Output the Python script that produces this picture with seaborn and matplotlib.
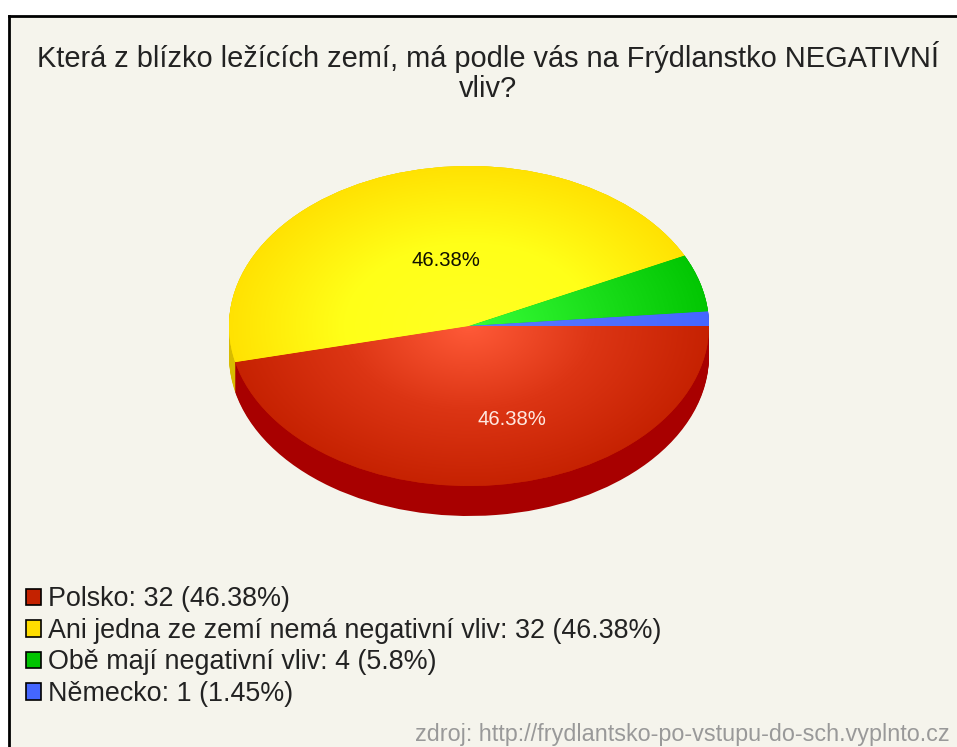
import numpy as np
import seaborn as sns
import matplotlib.pyplot as plt
from matplotlib.patches import Patch

# survey answers
names = ['Polsko', 'Ani jedna ze zemí nemá negativní vliv', 'Obě mají negativní vliv', 'Německo']
counts = [32, 32, 4, 1]
percents = ['46.38%', '46.38%', '5.8%', '1.45%']
title = 'Která z blízko ležících zemí, má podle vás na Frýdlanstko NEGATIVNÍ\nvliv?'
source = 'zdroj: http://frydlantsko-po-vstupu-do-sch.vyplnto.cz'

# colours: legend / pie centre / half radius / pie rim / side of the pie
legend_colors = ['#c42200', '#ffdd00', '#00c400', '#4466ff']
center_colors = ['#ff5a38', '#ffff22', '#38ff38', '#5a7cff']
middle_colors = ['#dc3514', '#ffff18', '#1ce01c', '#5070ff']
rim_colors = ['#c42000', '#ffdf00', '#00c400', '#4466ff']
side_colors = ['#a80000', '#d8bc00', '#00a000', '#3050d0']

W, H = 957, 747
BG = '#f5f4ec'

sns.set_theme(style='white')
plt.rcParams['font.family'] = ['Liberation Sans', 'DejaVu Sans']

fig = plt.figure(figsize=(W / 100, H / 100), dpi=100, facecolor='white')

# panel with the black border, it runs off the right and bottom of the image
panel = fig.add_axes([9 / W, -0.01, 1.0, (H - 16) / H + 0.01], facecolor=BG)
panel.set_xticks([])
panel.set_yticks([])
sns.despine(ax=panel, top=False, left=False, right=True, bottom=True)
panel.spines['top'].set_color('black')
panel.spines['left'].set_color('black')
panel.spines['top'].set_linewidth(2)
panel.spines['left'].set_linewidth(2)

# pie axes: x radius 240px, y radius 160px, 30px of depth below
depth = 30 / 160
ax = fig.add_axes([229 / W, (H - 326 - 160 - 31) / H, 480 / W, (320 + 31) / H])
ax.patch.set_alpha(0)

# side of the pie, same pie stacked downwards
for d in np.linspace(depth, 0, 31):
    ax.pie(counts, colors=side_colors, startangle=0, counterclock=False, center=(0, -d),
           radius=1, wedgeprops={'linewidth': 0})

# top of the pie
wedges, _ = ax.pie(counts, colors=rim_colors, startangle=0, counterclock=False,
                   radius=1, wedgeprops={'linewidth': 0})

# radial shading inside each slice
xx, yy = np.meshgrid(np.linspace(-1, 1, 500), np.linspace(-1, 1, 500))
rr = np.sqrt(xx ** 2 + yy ** 2)
for w, c0, c1, c2 in zip(wedges, center_colors, middle_colors, rim_colors):
    cmap = sns.blend_palette([c0, c1, c2], as_cmap=True)
    im = ax.imshow(rr, extent=(-1, 1, -1, 1), origin='lower', cmap=cmap, vmin=0, vmax=1.05,
                   interpolation='bilinear', zorder=2)
    im.set_clip_path(w)

ax.set_aspect('auto')
ax.set_xlim(-1, 1)
ax.set_ylim(-1 - 31 / 160, 1)
ax.axis('off')

ax.text(0.179, -0.582, percents[0], color='#ffe8e0', fontsize=14.6, ha='center', va='center', zorder=3)
ax.text(-0.096, 0.41, percents[1], color='#101000', fontsize=14.6, ha='center', va='center', zorder=3)

fig.text(488 / W, 1 - 72 / H, title, ha='center', va='center', fontsize=20.9, color='#222222',
         linespacing=1.08)

handles = [Patch(facecolor=c, edgecolor='black', linewidth=1.2) for c in legend_colors]
labels = [f'{n}: {c} ({p})' for n, c, p in zip(names, counts, percents)]
fig.legend(handles, labels, loc='lower left', bbox_to_anchor=(26 / W, 1 - 707 / H), frameon=False,
           fontsize=19.4, labelcolor='#222222', handlelength=0.57, handleheight=0.57,
           handletextpad=0.23, labelspacing=0.205, borderpad=0, borderaxespad=0)

fig.text(950 / W, 1 - 734 / H, source, ha='right', va='center', fontsize=16.8, color='#999999')

plt.savefig('out.png', dpi=100)
